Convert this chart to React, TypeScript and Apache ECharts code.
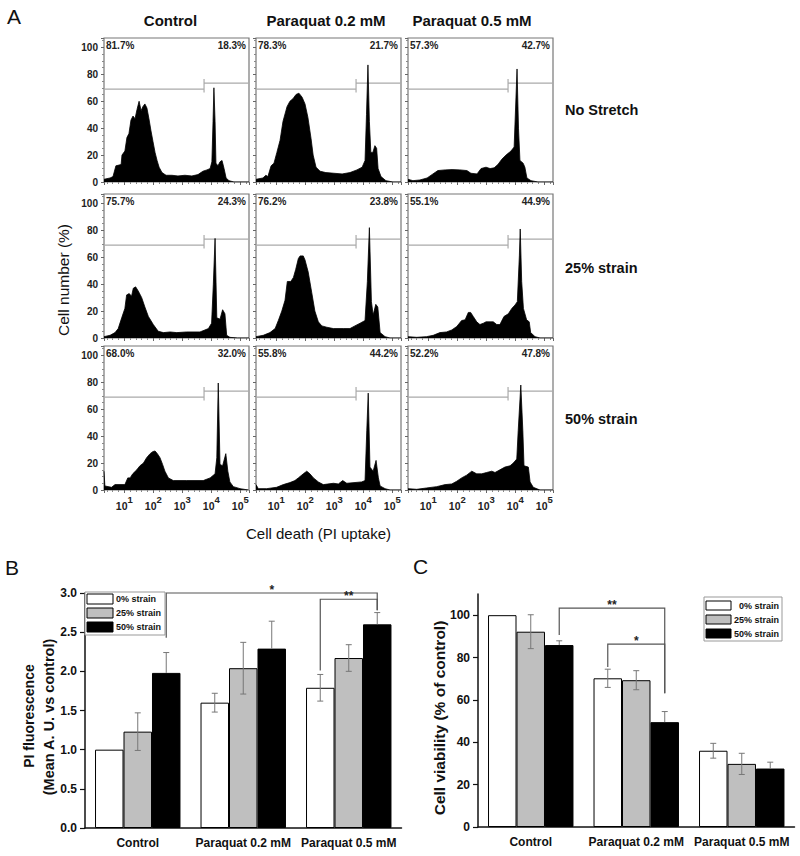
import React, { useEffect, useRef } from 'react';
import * as echarts from 'echarts';

const FONT = '"Liberation Sans", Arial, Helvetica, sans-serif';

// ---------- Panel A data ----------
const columnTitles = ['Control', 'Paraquat 0.2 mM', 'Paraquat 0.5 mM'];
const rowTitles = ['No Stretch', '25% strain', '50% strain'];
const leftPct = [
  ['81.7%', '78.3%', '57.3%'],
  ['75.7%', '76.2%', '55.1%'],
  ['68.0%', '55.8%', '52.2%'],
];
const rightPct = [
  ['18.3%', '21.7%', '42.7%'],
  ['24.3%', '23.8%', '44.9%'],
  ['32.0%', '44.2%', '47.8%'],
];
const histYTicks = [0, 20, 40, 60, 80, 100];
const histXDecades = [1, 2, 3, 4, 5];

// [log10(PI), cell number %]
const histNoStretchControl = [[0.3,2],[0.51,3],[0.61,4],[0.71,12],[0.89,13],[0.92,20],[1.02,23],[1.09,33],[1.16,36],[1.23,46],[1.3,49],[1.37,47],[1.44,54],[1.51,60],[1.58,53],[1.64,56],[1.71,58],[1.78,55],[1.85,47],[1.92,38],[1.99,30],[2.06,22],[2.13,16],[2.2,11],[2.3,7],[2.44,5],[2.64,5],[2.85,4.5],[3.09,5],[3.33,4.5],[3.54,5.5],[3.71,8],[3.85,9],[3.96,10],[4.02,15],[4.06,45],[4.09,70],[4.13,45],[4.16,14],[4.23,12],[4.3,15],[4.37,16],[4.44,10],[4.51,3],[4.61,1],[4.78,0],[5.3,0]];
const histNoStretchP02 = [[0.3,2],[0.54,3],[0.64,5],[0.71,4],[0.82,12],[0.92,14],[1.02,22],[1.13,31],[1.23,45],[1.37,56],[1.47,60],[1.58,62],[1.68,65],[1.78,66],[1.89,63],[1.99,58],[2.09,48],[2.2,32],[2.27,20],[2.37,11],[2.51,8],[2.71,7],[2.99,6.5],[3.27,6],[3.54,7],[3.78,9],[3.96,11],[4.06,16],[4.11,50],[4.16,87],[4.21,45],[4.26,22],[4.33,22],[4.4,27],[4.46,25],[4.51,10],[4.61,4],[4.78,1],[5.02,0],[5.3,0]];
const histNoStretchP05 = [[0.3,2],[0.47,1],[0.71,1.5],[0.96,3],[1.16,6],[1.33,8.5],[1.58,9],[1.82,9.2],[2.09,9],[2.33,8.5],[2.47,6.5],[2.68,6],[2.82,10],[2.99,11],[3.13,10],[3.27,10.5],[3.4,13],[3.54,17],[3.68,20],[3.85,23],[3.96,26],[4.01,55],[4.06,84],[4.11,40],[4.16,16],[4.27,14],[4.33,11],[4.4,3],[4.54,1],[4.78,0],[5.3,0]];
const hist25Control = [[0.3,1],[0.51,2],[0.68,4],[0.79,7],[0.91,15],[1.02,22],[1.08,32],[1.17,33],[1.25,31],[1.31,37],[1.39,38],[1.48,35],[1.6,30],[1.71,23],[1.83,16],[2.0,10],[2.17,5],[2.35,4],[2.58,4.5],[2.81,4],[3.15,4.5],[3.61,4.5],[3.9,7],[4.01,11],[4.07,40],[4.13,74],[4.19,15],[4.3,14],[4.39,21],[4.47,18],[4.53,2],[4.64,0.5],[4.9,0],[5.3,0]];
const hist25P02 = [[0.3,1],[0.55,2],[0.78,4],[0.96,7],[1.07,13],[1.19,20],[1.3,28],[1.38,42],[1.5,42],[1.59,45],[1.67,51],[1.76,59],[1.82,61],[1.93,61],[1.99,58],[2.1,49],[2.22,34],[2.33,20],[2.45,12],[2.57,9],[2.74,8],[2.97,7],[3.31,7],[3.54,7],[3.71,9],[3.89,11],[4.06,13],[4.14,42],[4.21,82],[4.28,27],[4.34,17],[4.43,25],[4.5,23],[4.58,4],[4.75,1],[4.92,0],[5.3,0]];
const hist25P05 = [[0.3,1],[0.6,0.5],[0.94,1],[1.17,2],[1.4,4],[1.63,4.5],[1.81,6],[1.98,8.5],[2.15,13],[2.27,13.5],[2.38,19],[2.46,19],[2.55,16],[2.67,12],[2.78,10],[2.9,11],[2.99,12],[3.13,12],[3.24,12],[3.36,10],[3.47,10],[3.61,16],[3.76,18],[3.88,22],[3.99,24.5],[4.07,27],[4.14,61],[4.17,81],[4.22,42],[4.28,22],[4.39,13.5],[4.48,12],[4.53,4],[4.68,1],[4.85,0],[5.3,0]];
const hist50Control = [[0.3,14],[0.33,3],[0.56,2],[0.68,4],[1.02,4],[1.12,9],[1.2,9],[1.29,12],[1.43,15],[1.54,18],[1.66,20],[1.77,24],[1.89,27],[1.98,28.5],[2.06,29],[2.14,27],[2.23,24],[2.32,19],[2.4,14],[2.52,9],[2.69,7],[3.15,7],[3.72,7],[3.96,9],[4.13,12],[4.19,24],[4.24,79.5],[4.3,19],[4.39,18],[4.5,27],[4.57,14],[4.64,6],[4.76,2.5],[4.99,1],[5.28,0],[5.3,0]];
const hist50P02 = [[0.3,4],[0.38,1],[0.67,1],[1.01,2],[1.24,4],[1.47,5.5],[1.64,7],[1.76,9],[1.93,12],[2.05,14],[2.16,12],[2.28,9],[2.45,6],[2.62,4],[2.97,5],[3.14,4.5],[3.29,7],[3.43,5],[3.94,6],[4.06,7],[4.12,44],[4.17,72],[4.23,17],[4.34,14],[4.44,22],[4.52,9],[4.58,3],[4.75,1],[4.92,0],[5.3,0]];
const hist50P05 = [[0.3,1],[0.6,0.5],[0.94,1.5],[1.29,2.5],[1.58,4],[1.81,4.5],[1.98,6.5],[2.15,9],[2.32,11],[2.5,14],[2.67,12],[2.84,12],[3.01,13],[3.19,14],[3.3,13],[3.47,15],[3.64,17],[3.82,18],[3.93,20],[4.05,23],[4.1,44],[4.19,78],[4.26,44],[4.3,18],[4.45,17],[4.51,6],[4.62,2],[4.85,0],[5.3,0]];

const histGrid = [
  [histNoStretchControl, histNoStretchP02, histNoStretchP05],
  [hist25Control, hist25P02, hist25P05],
  [hist50Control, hist50P02, hist50P05],
];

// gate marker (log10 position and heights)
const GATE_X = 3.75;
const GATE_LEFT_Y = 69;
const GATE_RIGHT_Y = 73.5;
const GATE_TICK_LOW = 66.5;
const GATE_TICK_HIGH = 76.5;
const X_MIN = 0.3;
const X_MAX = 5.3;
const HIST_Y_MAX = 107;

// ---------- Panel B / C data ----------
const barCategories = ['Control', 'Paraquat 0.2 mM', 'Paraquat 0.5 mM'];
const strainNames = ['0% strain', '25% strain', '50% strain'];
const strainColors = ['#ffffff', '#bfbfbf', '#000000'];

const piMean0 = [1.0, 1.6, 1.79];
const piErr0 = [0, 0.12, 0.17];
const piMean25 = [1.23, 2.04, 2.17];
const piErr25 = [0.24, 0.33, 0.17];
const piMean50 = [1.98, 2.29, 2.6];
const piErr50 = [0.26, 0.35, 0.15];
const piTicks = [0, 0.5, 1.0, 1.5, 2.0, 2.5, 3.0];

const viab0 = [100, 70.2, 36.0];
const viabErr0 = [0, 4.3, 3.5];
const viab25 = [92.2, 69.3, 29.8];
const viabErr25 = [8, 4.5, 5];
const viab50 = [85.9, 49.5, 27.6];
const viabErr50 = [2, 5, 3];

// brackets: [catLeft, barLeft, yLeft, catRight, barRight, yRight, yTop]
const piBrackets = [
  [0, 2, 2.43, 2, 2, 2.78, 3.0],
  [2, 0, 2.01, 2, 2, 2.78, 2.92],
];
const piBracketLabels = ['*', '**'];
const viabBrackets = [
  [0, 2, 90.6, 1, 2, 63.2, 103.3],
  [1, 0, 75.5, 1, 2, 63.2, 86.3],
];
const viabBracketLabels = ['**', '*'];

// ---------- layout ----------
const COL_X = [104, 256, 408];
const COL_W = 145;
const ROW_Y = [38, 194, 346];
const ROW_H = 144;
const BAR_FRAC = 0.27;

function txt(text: string, x: number, y: number, o: any = {}) {
  const align = o.align || 'left';
  const va = o.va || 'middle';
  return {
    type: 'text',
    x,
    y,
    rotation: o.rotation || 0,
    z: 100,
    style: {
      text,
      x: 0,
      y: 0,
      fill: o.color || '#111',
      fontSize: o.size || 12,
      fontWeight: o.weight || 'normal',
      fontFamily: FONT,
      align,
      textAlign: align,
      verticalAlign: va,
      textVerticalAlign: va,
    },
  };
}

function errorSeries(gi: number, means: number[], errs: number[], idx: number, upperOnly: boolean) {
  return {
    type: 'custom',
    xAxisIndex: gi,
    yAxisIndex: gi,
    z: 6,
    silent: true,
    data: means.map((v, k) => [k, v, errs[k]]),
    renderItem: (params: any, api: any) => {
      const cat = api.value(0);
      const v = api.value(1);
      const e = api.value(2);
      if (!e) return null;
      const band = api.size([1, 0])[0];
      const c = api.coord([cat, v]);
      const x = c[0] + (idx - 1) * band * BAR_FRAC;
      const yTop = api.coord([cat, v + e])[1];
      const yBot = upperOnly ? c[1] : api.coord([cat, v - e])[1];
      const st = { stroke: '#777', lineWidth: 1 };
      const ch: any[] = [
        { type: 'line', shape: { x1: x, y1: yTop, x2: x, y2: yBot }, style: st },
        { type: 'line', shape: { x1: x - 3, y1: yTop, x2: x + 3, y2: yTop }, style: st },
      ];
      if (!upperOnly) ch.push({ type: 'line', shape: { x1: x - 3, y1: yBot, x2: x + 3, y2: yBot }, style: st });
      return { type: 'group', children: ch };
    },
  };
}

function bracketSeries(gi: number, data: number[][], labels: string[]) {
  return {
    type: 'custom',
    xAxisIndex: gi,
    yAxisIndex: gi,
    z: 7,
    silent: true,
    data,
    renderItem: (params: any, api: any) => {
      const band = api.size([1, 0])[0];
      const bx = (cat: number, bar: number) => api.coord([cat, 0])[0] + (bar - 1) * band * BAR_FRAC;
      const xL = bx(api.value(0), api.value(1));
      const xR = bx(api.value(3), api.value(4));
      const yL = api.coord([0, api.value(2)])[1];
      const yR = api.coord([0, api.value(5)])[1];
      const yT = api.coord([0, api.value(6)])[1];
      return {
        type: 'group',
        children: [
          {
            type: 'polyline',
            shape: { points: [[xL, yL], [xL, yT], [xR, yT], [xR, yR]] },
            style: { stroke: '#555', lineWidth: 1.2, fill: null },
          },
          {
            type: 'text',
            style: {
              text: labels[params.dataIndex],
              x: (xL + xR) / 2,
              y: yT - 3,
              align: 'center',
              textAlign: 'center',
              verticalAlign: 'middle',
              textVerticalAlign: 'middle',
              fontSize: 12,
              fontWeight: 'bold',
              fontFamily: FONT,
              fill: '#222',
            },
          },
        ],
      };
    },
  };
}

function legendGraphics(boxX: number, boxY: number, boxW: number, boxH: number, swX: number, swW: number, swH: number, rowsY: number[], textX: number, textAlign: string) {
  const els: any[] = [
    { type: 'rect', z: 90, shape: { x: boxX, y: boxY, width: boxW, height: boxH }, style: { fill: '#fff', stroke: '#999', lineWidth: 1 } },
  ];
  strainNames.forEach((n, i) => {
    els.push({ type: 'rect', z: 91, shape: { x: swX, y: rowsY[i] - swH / 2, width: swW, height: swH }, style: { fill: strainColors[i], stroke: '#000', lineWidth: 1 } });
    els.push(txt(n, textX, rowsY[i], { size: 9, weight: 'bold', align: textAlign }));
  });
  return els;
}

function buildOption() {
  const grids: any[] = [];
  const xAxes: any[] = [];
  const yAxes: any[] = [];
  const series: any[] = [];
  const graphics: any[] = [];

  const gateData = [
    [X_MIN, GATE_LEFT_Y], [GATE_X, GATE_LEFT_Y], [GATE_X, GATE_TICK_LOW],
    [GATE_X, GATE_TICK_HIGH], [GATE_X, GATE_RIGHT_Y], [X_MAX, GATE_RIGHT_Y],
  ];

  for (let r = 0; r < 3; r++) {
    for (let c = 0; c < 3; c++) {
      const gi = r * 3 + c;
      grids.push({
        left: COL_X[c], top: ROW_Y[r], width: COL_W, height: ROW_H,
        show: true, borderColor: '#777', borderWidth: 1.2, backgroundColor: '#fff',
        outerBoundsMode: 'none', containLabel: false,
      });
      xAxes.push({
        gridIndex: gi, type: 'value', min: X_MIN, max: X_MAX,
        axisLine: { show: false }, splitLine: { show: false },
        axisTick: { show: true, length: 3, lineStyle: { color: '#666' } },
        minorTick: { show: true, splitNumber: 5, length: 2, lineStyle: { color: '#888' } },
        axisLabel: r === 2 ? {
          show: true, margin: 3, color: '#222', fontFamily: FONT,
          formatter: (v: number) => {
            const k = Math.round(v);
            if (Math.abs(v - k) > 1e-6 || histXDecades.indexOf(k) < 0) return '';
            return `{b|10}{s|${k}}`;
          },
          rich: {
            b: { fontSize: 10.5, fontWeight: 'bold', color: '#222', fontFamily: FONT, padding: [7, 0, 0, 0] },
            s: { fontSize: 9.5, fontWeight: 'bold', color: '#222', fontFamily: FONT, padding: [0, 0, 5, 0] },
          },
        } : { show: false },
      });
      yAxes.push({
        gridIndex: gi, type: 'value', min: 0, max: HIST_Y_MAX, interval: 20,
        axisLine: { show: false }, splitLine: { show: false },
        axisTick: { show: true, length: 3, lineStyle: { color: '#666' } },
        minorTick: { show: true, splitNumber: 4, length: 2, lineStyle: { color: '#888' } },
        axisLabel: c === 0 ? {
          show: true, fontSize: 10, fontWeight: 'bold', color: '#222', margin: 6, fontFamily: FONT,
          formatter: (v: number) => (histYTicks.indexOf(v) >= 0 ? String(v) : ''),
        } : { show: false },
      });
      series.push({
        type: 'line', xAxisIndex: gi, yAxisIndex: gi, data: gateData, symbol: 'none',
        lineStyle: { color: '#aaa', width: 1.2 }, silent: true, z: 2,
      });
      series.push({
        type: 'line', xAxisIndex: gi, yAxisIndex: gi, data: histGrid[r][c], symbol: 'none',
        lineStyle: { color: '#000', width: 0.8 }, areaStyle: { color: '#000', opacity: 1 },
        silent: true, z: 3,
      });
      graphics.push(txt(leftPct[r][c], COL_X[c] + 2, ROW_Y[r] + 7.5, { size: 10, weight: 'bold', color: '#222' }));
      graphics.push(txt(rightPct[r][c], COL_X[c] + COL_W - 3, ROW_Y[r] + 7.5, { size: 10, weight: 'bold', color: '#222', align: 'right' }));
    }
  }

  // Panel B (grid 9)
  grids.push({ left: 85, top: 593, width: 316.5, height: 235, outerBoundsMode: 'none', containLabel: false });
  xAxes.push({
    gridIndex: 9, type: 'category', data: barCategories,
    axisLine: { show: true, lineStyle: { color: '#111', width: 1.5 } },
    axisTick: { show: false }, splitLine: { show: false },
    axisLabel: { interval: 0, fontSize: 12, fontWeight: 'bold', color: '#111', margin: 9, fontFamily: FONT },
  });
  yAxes.push({
    gridIndex: 9, type: 'value', min: 0, max: 3, interval: 0.5,
    axisLine: { show: true, lineStyle: { color: '#111', width: 1.5 } },
    axisTick: { show: true, length: 5, lineStyle: { color: '#111', width: 1.2 } },
    splitLine: { show: false },
    axisLabel: {
      fontSize: 12, fontWeight: 'bold', color: '#111', margin: 8, fontFamily: FONT,
      formatter: (v: number) => (piTicks.indexOf(v) >= 0 ? v.toFixed(1) : ''),
    },
  });
  const piMeans = [piMean0, piMean25, piMean50];
  const piErrs = [piErr0, piErr25, piErr50];
  for (let i = 0; i < 3; i++) {
    series.push({
      type: 'bar', name: strainNames[i], xAxisIndex: 9, yAxisIndex: 9, data: piMeans[i],
      barWidth: '27%', barGap: '0%', z: 4, silent: true,
      itemStyle: { color: strainColors[i], borderColor: '#000', borderWidth: 1 },
    });
  }
  for (let i = 0; i < 3; i++) series.push(errorSeries(9, piMeans[i], piErrs[i], i, i === 2));
  series.push(bracketSeries(9, piBrackets, piBracketLabels));

  // Panel C (grid 10)
  grids.push({ left: 478, top: 594, width: 316.5, height: 233, outerBoundsMode: 'none', containLabel: false });
  xAxes.push({
    gridIndex: 10, type: 'category', data: barCategories,
    axisLine: { show: true, lineStyle: { color: '#111', width: 1.5 } },
    axisTick: { show: false }, splitLine: { show: false },
    axisLabel: { interval: 0, fontSize: 12, fontWeight: 'bold', color: '#111', margin: 9, fontFamily: FONT },
  });
  yAxes.push({
    gridIndex: 10, type: 'value', min: 0, max: 110, interval: 20,
    axisLine: { show: true, lineStyle: { color: '#111', width: 1.5 } },
    axisTick: { show: true, length: 5, lineStyle: { color: '#111', width: 1.2 } },
    splitLine: { show: false },
    axisLabel: {
      fontSize: 12, fontWeight: 'bold', color: '#111', margin: 8, fontFamily: FONT, showMaxLabel: false,
      formatter: (v: number) => (v % 20 === 0 && v <= 100 ? String(v) : ''),
    },
  });
  const vMeans = [viab0, viab25, viab50];
  const vErrs = [viabErr0, viabErr25, viabErr50];
  for (let i = 0; i < 3; i++) {
    series.push({
      type: 'bar', name: strainNames[i], xAxisIndex: 10, yAxisIndex: 10, data: vMeans[i],
      barWidth: '27%', barGap: '0%', z: 4, silent: true,
      itemStyle: { color: strainColors[i], borderColor: '#000', borderWidth: 1 },
    });
  }
  for (let i = 0; i < 3; i++) series.push(errorSeries(10, vMeans[i], vErrs[i], i, i === 2));
  series.push(bracketSeries(10, viabBrackets, viabBracketLabels));

  // texts
  graphics.push(txt('A', 7, 16.5, { size: 21 }));
  graphics.push(txt('B', 5, 567.5, { size: 21 }));
  graphics.push(txt('C', 413, 566.5, { size: 21 }));
  const titleX = [170.5, 326, 472];
  columnTitles.forEach((t, i) => graphics.push(txt(t, titleX[i], 20, { size: 15, weight: 'bold', align: 'center' })));
  const rowLabelY = [110, 268, 419];
  rowTitles.forEach((t, i) => graphics.push(txt(t, 565, rowLabelY[i], { size: 14.5, weight: 'bold' })));
  graphics.push(txt('Cell number (%)', 63, 280, { size: 15.5, align: 'center', rotation: Math.PI / 2 }));
  graphics.push(txt('Cell death (PI uptake)', 318.5, 533, { size: 15, align: 'center' }));
  graphics.push(txt('PI fluorescence', 28.5, 716, { size: 14, weight: 'bold', align: 'center', rotation: Math.PI / 2 }));
  graphics.push(txt('(Mean A. U. vs control)', 49, 717, { size: 14.5, weight: 'bold', align: 'center', rotation: Math.PI / 2 }));
  graphics.push(txt('Cell viability (% of control)', 439.5, 718, { size: 15.5, weight: 'bold', align: 'center', rotation: Math.PI / 2 }));

  graphics.push(...legendGraphics(85, 592, 80, 43, 87, 26, 10, [599, 613, 627], 116, 'left'));
  graphics.push(...legendGraphics(704, 597, 78, 44, 706, 25, 9, [605.5, 619.5, 633.5], 779, 'right'));

  return {
    animation: false,
    backgroundColor: '#fff',
    textStyle: { fontFamily: FONT },
    grid: grids,
    xAxis: xAxes,
    yAxis: yAxes,
    series,
    graphic: { elements: graphics },
  };
}

export default function App() {
  const ref = useRef<HTMLDivElement>(null);
  useEffect(() => {
    if (!ref.current) return;
    const chart = echarts.init(ref.current, null, { renderer: 'svg' });
    chart.setOption(buildOption() as any);
    return () => chart.dispose();
  }, []);
  return (
    <div
      ref={ref}
      style={{ position: 'absolute', left: 0, top: 0, width: 800, height: 856, background: '#fff' }}
    />
  );
}
